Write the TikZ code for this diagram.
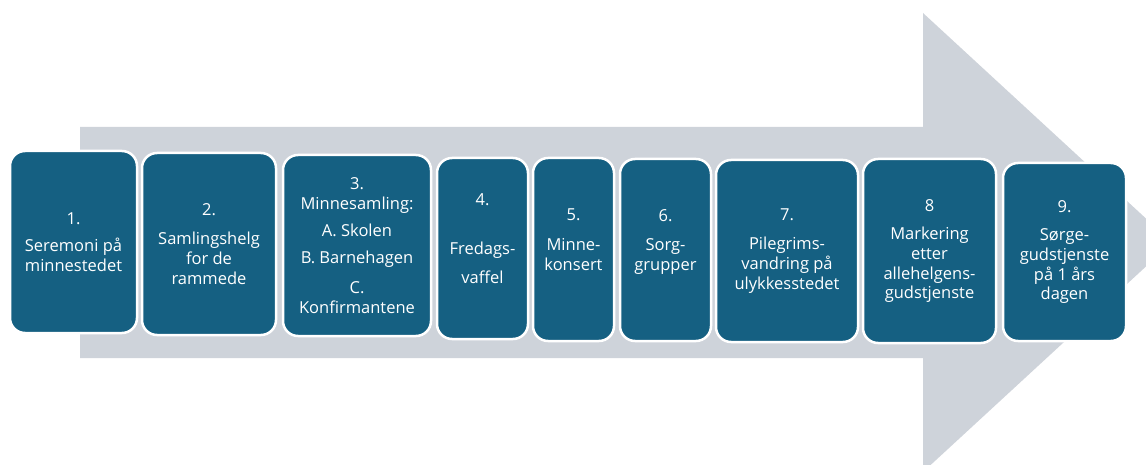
\documentclass[tikz,border=0pt]{standalone}
\usepackage{fontspec}
\setmainfont{Open Sans}
\definecolor{boxblue}{HTML}{156082}
\definecolor{arrowgray}{HTML}{CED3DA}
\begin{document}
\begin{tikzpicture}[x=1pt,y=-1pt,
  evt/.style={fill=boxblue, draw=white, line width=2.5pt, rounded corners=15pt,
    text=white, align=center, inner sep=0pt, font=\fontsize{16.5}{19.8}\selectfont}]
\useasboundingbox (0,0) rectangle (1146,465);
\begin{scope}
\clip (0,0) rectangle (1146,465);
\fill[arrowgray] (80,127) -- (923,127) -- (923,13) -- (1172,242.5) -- (923,472) -- (923,358) -- (80,358) -- cycle;
\end{scope}
\node[evt, minimum width=127pt, minimum height=182pt] (s1) at (73.5,242) {1.\\[7.5pt]Seremoni på\\minnestedet};
\node[evt, minimum width=134pt, minimum height=182pt] (s2) at (209,244) {2.\\[9.5pt]Samlingshelg\\for de\\rammede};
\node[evt, minimum width=148pt, minimum height=181pt] (s3) at (357,245.5) {3.\\Minnesamling:\\[8pt]A. Skolen\\[7pt]B. Barnehagen\\[10pt]C.\\Konfirmantene};
\node[evt, minimum width=91pt, minimum height=181pt] (s4) at (482.5,248.5) {4.\\[28.5pt]Fredags-\\[9.5pt]vaffel\\\mbox{}};
\node[evt, minimum width=81pt, minimum height=183pt] (s5) at (573.5,249.5) {5.\\[9.5pt]Minne-\\konsert\\\mbox{}};
\node[evt, minimum width=91pt, minimum height=182pt] (s6) at (665.5,250) {6.\\[9.5pt]Sorg-\\grupper\\\mbox{}};
\node[evt, minimum width=142pt, minimum height=182pt] (s7) at (787,251) {7.\\[9.5pt]Pilegrims-\\vandring på\\ulykkesstedet};
\node[evt, minimum width=133pt, minimum height=184pt] (s8) at (929.5,251) {8\\[8.5pt]Markering\\etter\\allehelgens-\\gudstjenste};
\node[evt, minimum width=123pt, minimum height=178pt] (s9) at (1064.5,252) {9.\\[8.5pt]Sørge-\\gudstjenste\\på 1 års\\dagen};
\end{tikzpicture}
\end{document}
